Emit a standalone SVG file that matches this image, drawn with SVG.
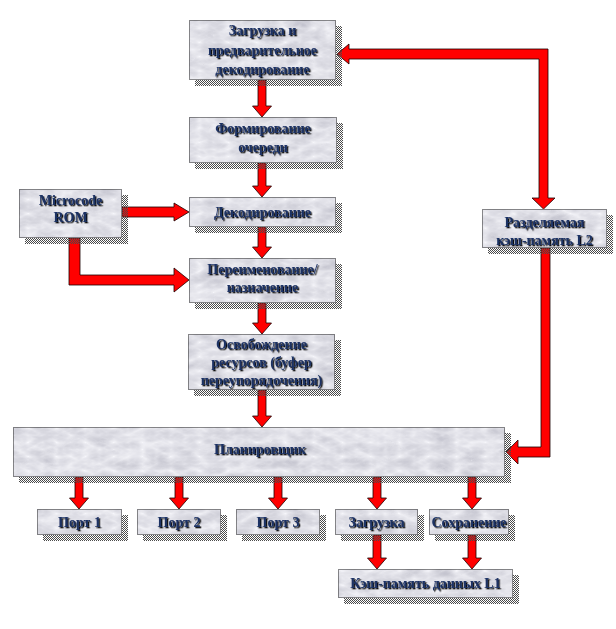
<svg xmlns="http://www.w3.org/2000/svg" width="616" height="629" viewBox="0 0 616 629">
<defs>
  <pattern id="checker" width="2" height="2" patternUnits="userSpaceOnUse">
    <rect x="0" y="0" width="1" height="1" fill="#4a4a4a"/>
    <rect x="1" y="1" width="1" height="1" fill="#4a4a4a"/>
  </pattern>
  <filter id="marble" filterUnits="objectBoundingBox" x="0" y="0" width="1" height="1">
    <feTurbulence type="turbulence" baseFrequency="0.035 0.07" numOctaves="3" seed="7"/>
    <feColorMatrix type="matrix" values="0.33 0.33 0.33 0 0  0.33 0.33 0.33 0 0  0.33 0.33 0.33 0 0  0 0 0 0 1"/>
    <feComponentTransfer>
      <feFuncR type="linear" slope="-0.6" intercept="0.92"/>
      <feFuncG type="linear" slope="-0.6" intercept="0.92"/>
      <feFuncB type="linear" slope="-0.55" intercept="0.96"/>
    </feComponentTransfer>
    <feComposite in2="SourceGraphic" operator="in"/>
  </filter>
  <filter id="tshadow" x="-10%" y="-20%" width="120%" height="150%">
    <feDropShadow dx="1.3" dy="1.3" stdDeviation="0.4" flood-color="#111" flood-opacity="1"/>
  </filter>
</defs>
<style>
  .sh { fill: url(#checker); }
  .body { fill: #d8d8de; filter: url(#marble); }
  .bd { fill: none; stroke: #222; stroke-width: 1; stroke-dasharray: 1 1; }
  .t { font-family: "Liberation Serif", "Times New Roman", serif; font-weight: bold; font-size: 14px; fill: #1d3263; text-anchor: middle; filter: url(#tshadow); }
  .arr { fill: #ff0000; stroke: #1a0000; stroke-width: 0.8; }
</style>
<rect width="616" height="629" fill="#ffffff"/>

<g id="connectors">
  <polygon class="arr" points="258,80 266,80 266,106 271.5,106 262,117 252.5,106 258,106"/>
  <polygon class="arr" points="258,163 266,163 266,186 271.5,186 262,197 252.5,186 258,186"/>
  <polygon class="arr" points="258,227 266,227 266,247 271.5,247 262,258 252.5,247 258,247"/>
  <polygon class="arr" points="258,303 266,303 266,323 271.5,323 262,334 252.5,323 258,323"/>
  <polygon class="arr" points="258,390 266,390 266,416 271.5,416 262,427 252.5,416 258,416"/>
  <polygon class="arr" points="122,207 174,207 174,203 189,212 174,221 174,217 122,217"/>
  <polygon class="arr" points="69,238 80,238 80,275 174,275 174,268 189,280 174,292 174,285 69,285"/>
  <polygon class="arr" points="337,54 349,44 349,49 548,49 548,198 555,198 543.5,209 532,198 539,198 539,59 349,59 349,64"/>
  <polygon class="arr" points="541,248 550,248 550,457 518,457 518,464 506,452 518,440 518,447 541,447"/>
  <polygon class="arr" points="75,477 83,477 83,498 88.5,498 79,509 69.5,498 75,498"/>
  <polygon class="arr" points="175,477 183,477 183,498 188.5,498 179,509 169.5,498 175,498"/>
  <polygon class="arr" points="274,477 282,477 282,498 287.5,498 278,509 268.5,498 274,498"/>
  <polygon class="arr" points="373,477 381,477 381,498 386.5,498 377,509 367.5,498 373,498"/>
  <polygon class="arr" points="468,477 476,477 476,498 481.5,498 472,509 462.5,498 468,498"/>
  <polygon class="arr" points="373,535 381,535 381,558 386.5,558 377,569 367.5,558 373,558"/>
  <polygon class="arr" points="468,535 476,535 476,558 481.5,558 472,569 462.5,558 468,558"/>
</g>

<g id="fetch">
  <rect class="sh" x="195" y="26" width="147" height="60"/>
  <rect class="body" x="189" y="20" width="147" height="60"/>
  <rect class="bd" x="189.5" y="20.5" width="146" height="59"/>
  <text class="t" x="262.5" y="35">Загрузка и</text>
  <text class="t" x="262.5" y="55">предварительное</text>
  <text class="t" x="262.5" y="74">декодирование</text>
</g>

<g id="queue">
  <rect class="sh" x="195" y="123" width="148" height="46"/>
  <rect class="body" x="189" y="117" width="148" height="46"/>
  <rect class="bd" x="189.5" y="117.5" width="147" height="45"/>
  <text class="t" x="263" y="133">Формирование</text>
  <text class="t" x="263" y="152">очереди</text>
</g>

<g id="rom">
  <rect class="sh" x="25" y="195" width="103" height="49"/>
  <rect class="body" x="19" y="189" width="103" height="49"/>
  <rect class="bd" x="19.5" y="189.5" width="102" height="48"/>
  <text class="t" x="70.5" y="205">Microcode</text>
  <text class="t" x="70.5" y="222">ROM</text>
</g>

<g id="decode">
  <rect class="sh" x="195" y="203" width="147" height="30"/>
  <rect class="body" x="189" y="197" width="147" height="30"/>
  <rect class="bd" x="189.5" y="197.5" width="146" height="29"/>
  <text class="t" x="262.5" y="217">Декодирование</text>
</g>

<g id="rename">
  <rect class="sh" x="195" y="264" width="147" height="45"/>
  <rect class="body" x="189" y="258" width="147" height="45"/>
  <rect class="bd" x="189.5" y="258.5" width="146" height="44"/>
  <text class="t" x="262.5" y="274">Переименование/</text>
  <text class="t" x="262.5" y="292">назначение</text>
</g>

<g id="retire">
  <rect class="sh" x="194" y="340" width="147" height="56"/>
  <rect class="body" x="188" y="334" width="147" height="56"/>
  <rect class="bd" x="188.5" y="334.5" width="146" height="55"/>
  <text class="t" x="261.5" y="349">Освобождение</text>
  <text class="t" x="261.5" y="367">ресурсов (буфер</text>
  <text class="t" x="261.5" y="385">переупорядочения)</text>
</g>

<g id="l2">
  <rect class="sh" x="488" y="215" width="125" height="39"/>
  <rect class="body" x="482" y="209" width="125" height="39"/>
  <rect class="bd" x="482.5" y="209.5" width="124" height="38"/>
  <text class="t" x="544.5" y="227">Разделяемая</text>
  <text class="t" x="544.5" y="245">кэш-память L2</text>
</g>

<g id="scheduler">
  <rect class="sh" x="19" y="433" width="492" height="50"/>
  <rect class="body" x="13" y="427" width="492" height="50"/>
  <rect class="bd" x="13.5" y="427.5" width="491" height="49"/>
  <text class="t" x="260" y="454">Планировщик</text>
</g>

<g id="port1">
  <rect class="sh" x="43" y="515" width="85" height="26"/>
  <rect class="body" x="37" y="509" width="85" height="26"/>
  <rect class="bd" x="37.5" y="509.5" width="84" height="25"/>
  <text class="t" x="79.5" y="527">Порт 1</text>
</g>

<g id="port2">
  <rect class="sh" x="143" y="515" width="84" height="26"/>
  <rect class="body" x="137" y="509" width="84" height="26"/>
  <rect class="bd" x="137.5" y="509.5" width="83" height="25"/>
  <text class="t" x="179" y="527">Порт 2</text>
</g>

<g id="port3">
  <rect class="sh" x="242" y="515" width="84" height="26"/>
  <rect class="body" x="236" y="509" width="84" height="26"/>
  <rect class="bd" x="236.5" y="509.5" width="83" height="25"/>
  <text class="t" x="278" y="527">Порт 3</text>
</g>

<g id="load">
  <rect class="sh" x="341" y="515" width="83" height="26"/>
  <rect class="body" x="335" y="509" width="83" height="26"/>
  <rect class="bd" x="335.5" y="509.5" width="82" height="25"/>
  <text class="t" x="376.5" y="527">Загрузка</text>
</g>

<g id="store">
  <rect class="sh" x="435" y="515" width="80" height="26"/>
  <rect class="body" x="429" y="509" width="80" height="26"/>
  <rect class="bd" x="429.5" y="509.5" width="79" height="25"/>
  <text class="t" x="469" y="527">Сохранение</text>
</g>

<g id="l1">
  <rect class="sh" x="344" y="575" width="175" height="29"/>
  <rect class="body" x="338" y="569" width="175" height="29"/>
  <rect class="bd" x="338.5" y="569.5" width="174" height="28"/>
  <text class="t" x="425.5" y="588">Кэш-память данных L1</text>
</g>
</svg>
